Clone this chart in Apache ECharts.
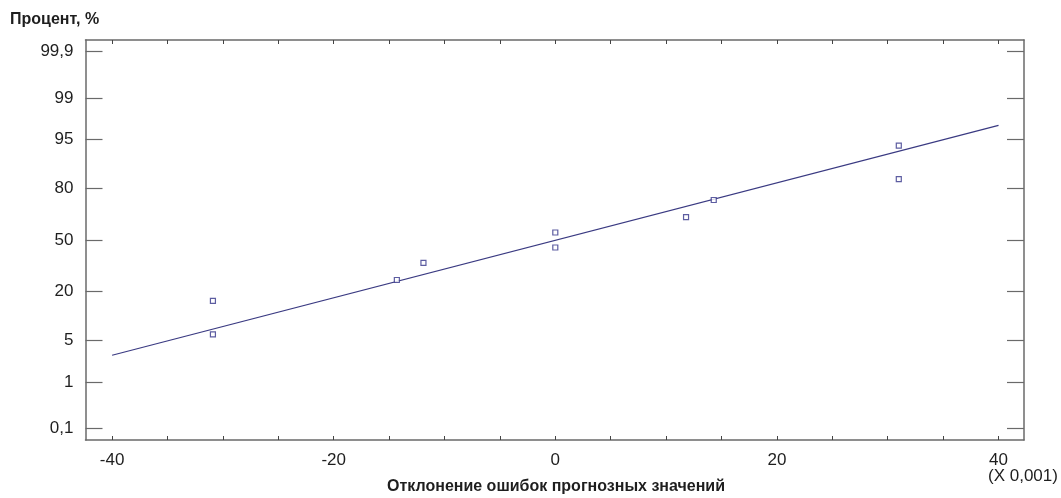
<!DOCTYPE html>
<html>
<head>
<meta charset="utf-8">
<script src="https://cdn.jsdelivr.net/npm/echarts@6/dist/echarts.min.js"></script>
<style>
html,body{margin:0;padding:0;background:#fff;}
#chart{width:1061px;height:498px;}
</style>
</head>
<body>
<div id="chart"></div>
<script>
// ---- data ----
const xValues = [-30.9, -30.9, -14.3, -11.9, 0.0, 0.0, 11.8, 14.3, 31.0, 31.0]; // (X 0,001)
const yPercents = [6.1, 15.9, 25.6, 35.4, 45.1, 54.9, 64.6, 74.4, 84.1, 93.9];  // percent
const fitX = [-40, 40];
const fitPercents = [2.94, 97.0];
const yTickPercents = [0.1, 1, 5, 20, 50, 80, 95, 99, 99.9];
const yTickLabels = ['0,1', '1', '5', '20', '50', '80', '95', '99', '99,9'];
const xTickValues = [-40, -35, -30, -25, -20, -15, -10, -5, 0, 5, 10, 15, 20, 25, 30, 35, 40];
const xLabelValues = [-40, -20, 0, 20, 40];

// probability-scale transform (inverse normal CDF, Acklam)
function probit(pct) {
  const p = pct / 100;
  const a = [-3.969683028665376e+01, 2.209460984245205e+02, -2.759285104469687e+02, 1.383577518672690e+02, -3.066479806614716e+01, 2.506628277459239e+00];
  const b = [-5.447609879822406e+01, 1.615858368580409e+02, -1.556989798598866e+02, 6.680131188771972e+01, -1.328068155288572e+01];
  const c = [-7.784894002430293e-03, -3.223964580411365e-01, -2.400758277161838e+00, -2.549732539343734e+00, 4.374664141464968e+00, 2.938163982698783e+00];
  const d = [7.784695709041462e-03, 3.224671290700398e-01, 2.445134137142996e+00, 3.754408661907416e+00];
  const pl = 0.02425, ph = 1 - pl;
  let q, r;
  if (p < pl) {
    q = Math.sqrt(-2 * Math.log(p));
    return (((((c[0]*q+c[1])*q+c[2])*q+c[3])*q+c[4])*q+c[5]) / ((((d[0]*q+d[1])*q+d[2])*q+d[3])*q+1);
  } else if (p <= ph) {
    q = p - 0.5; r = q*q;
    return (((((a[0]*r+a[1])*r+a[2])*r+a[3])*r+a[4])*r+a[5])*q / (((((b[0]*r+b[1])*r+b[2])*r+b[3])*r+b[4])*r+1);
  } else {
    q = Math.sqrt(-2 * Math.log(1 - p));
    return -(((((c[0]*q+c[1])*q+c[2])*q+c[3])*q+c[4])*q+c[5]) / ((((d[0]*q+d[1])*q+d[2])*q+d[3])*q+1);
  }
}

const yTickZ = yTickPercents.map(probit);
const labelMap = {};
yTickZ.forEach((z, i) => { labelMap[z.toFixed(6)] = yTickLabels[i]; });

const scatterData = xValues.map((x, i) => [x, probit(yPercents[i])]);
const lineData = fitX.map((x, i) => [x, probit(fitPercents[i])]);

const FONT = 'Liberation Sans, Arial, sans-serif';
const axisColor = '#6a6a6a';
const textColor = '#1e1e1e';

const chart = echarts.init(document.getElementById('chart'), null, {renderer: 'canvas'});

const xCommon = {
  type: 'value', min: -42.4, max: 42.3,
  axisLine: {show: true, onZero: false, lineStyle: {color: axisColor, width: 1.5}},
  axisTick: {show: true, inside: true, length: 4, customValues: xTickValues, lineStyle: {color: '#444', width: 1}},
  splitLine: {show: false}
};
const yCommon = {
  type: 'value', min: -3.28, max: 3.28,
  axisLine: {show: true, onZero: false, lineStyle: {color: axisColor, width: 1.5}},
  axisTick: {show: true, inside: true, length: 17, customValues: yTickZ, lineStyle: {color: axisColor, width: 1.2}},
  splitLine: {show: false}
};

chart.setOption({
  animation: false,
  backgroundColor: '#fff',
  grid: {left: 85.5, right: 37, top: 40, bottom: 58, containLabel: false},
  xAxis: [
    Object.assign({}, xCommon, {
      position: 'bottom',
      axisLabel: {show: true, customValues: xLabelValues, fontSize: 17, fontFamily: FONT, color: textColor, margin: 12}
    }),
    Object.assign({}, xCommon, {position: 'top', axisLabel: {show: false}})
  ],
  yAxis: [
    Object.assign({}, yCommon, {
      position: 'left',
      axisLabel: {
        show: true, customValues: yTickZ, fontSize: 17, fontFamily: FONT, color: textColor, margin: 12,
        formatter: v => labelMap[Number(v).toFixed(6)] || ''
      }
    }),
    Object.assign({}, yCommon, {position: 'right', axisLabel: {show: false}})
  ],
  graphic: [
    {type: 'text', left: 10, top: 12, style: {text: 'Процент, %', font: 'bold 16px ' + FONT, fill: textColor}},
    {type: 'text', left: 387, top: 479, style: {text: 'Отклонение ошибок прогнозных значений', font: 'bold 16px ' + FONT, fill: textColor}},
    {type: 'text', left: 988, top: 468, style: {text: '(X 0,001)', font: '17px ' + FONT, fill: textColor}}
  ],
  series: [
    {
      type: 'line', data: lineData, xAxisIndex: 0, yAxisIndex: 0,
      showSymbol: false, symbol: 'none',
      lineStyle: {color: '#3a3a82', width: 1.2}, z: 2
    },
    {
      type: 'scatter', data: scatterData, xAxisIndex: 0, yAxisIndex: 0,
      symbol: 'rect', symbolSize: 5,
      itemStyle: {color: '#ffffff', borderColor: '#34348a', borderWidth: 1.2}, z: 3
    }
  ]
});
</script>
</body>
</html>
